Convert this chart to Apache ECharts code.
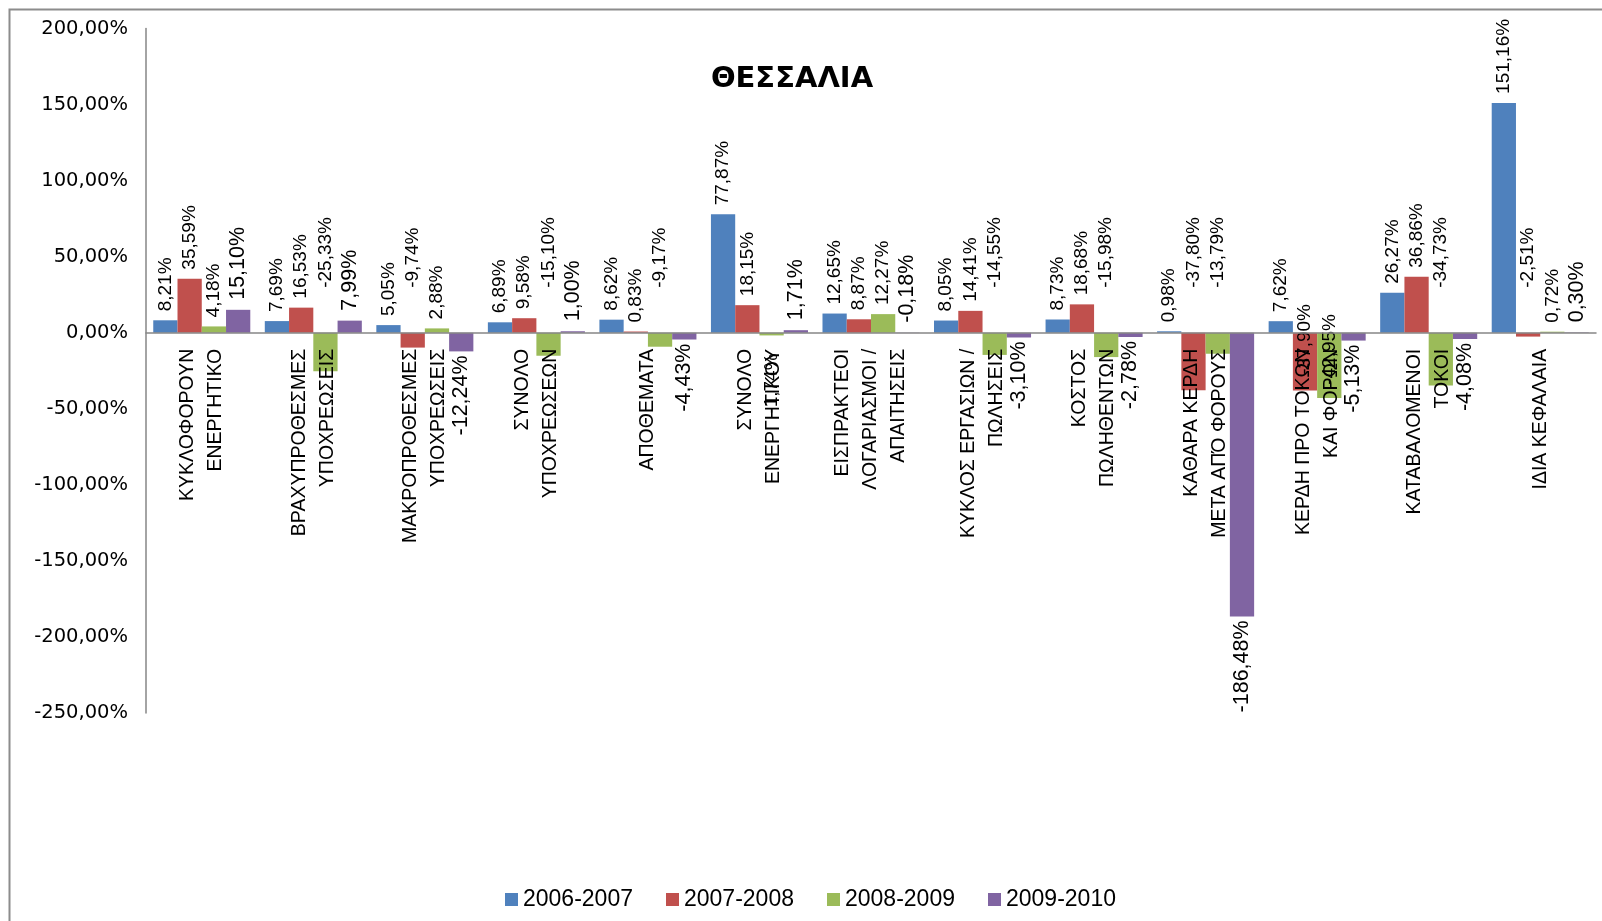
<!DOCTYPE html>
<html lang="el">
<head>
  <meta charset="UTF-8">
  <title>ΘΕΣΣΑΛΙΑ</title>
  <script src="https://cdn.jsdelivr.net/npm/echarts@6.0.0/dist/echarts.min.js"></script>
  <style>
    html, body { margin: 0; padding: 0; background: #ffffff; }
    #chart { width: 1602px; height: 921px; }
  </style>
</head>
<body>
  <div id="chart"></div>

  <script>
    // κατηγορίες (δείκτες)
    const categories = [
      'ΚΥΚΛΟΦΟΡΟΥΝ\nΕΝΕΡΓΗΤΙΚΟ',
      'ΒΡΑΧΥΠΡΟΘΕΣΜΕΣ\nΥΠΟΧΡΕΩΣΕΙΣ',
      'ΜΑΚΡΟΠΡΟΘΕΣΜΕΣ\nΥΠΟΧΡΕΩΣΕΙΣ',
      'ΣΥΝΟΛΟ\nΥΠΟΧΡΕΩΣΕΩΝ',
      'ΑΠΟΘΕΜΑΤΑ',
      'ΣΥΝΟΛΟ\nΕΝΕΡΓΗΤΙΚΟΥ',
      'ΕΙΣΠΡΑΚΤΕΟΙ\nΛΟΓΑΡΙΑΣΜΟΙ /\nΑΠΑΙΤΗΣΕΙΣ',
      'ΚΥΚΛΟΣ ΕΡΓΑΣΙΩΝ /\nΠΩΛΗΣΕΙΣ',
      'ΚΟΣΤΟΣ\nΠΩΛΗΘΕΝΤΩΝ',
      'ΚΑΘΑΡΑ ΚΕΡΔΗ\nΜΕΤΑ ΑΠΌ ΦΟΡΟΥΣ',
      'ΚΕΡΔΗ ΠΡΟ ΤΟΚΩΝ\nΚΑΙ ΦΟΡΩΝ',
      'ΚΑΤΑΒΑΛΟΜΕΝΟΙ\nΤΟΚΟΙ',
      'ΙΔΙΑ ΚΕΦΑΛΑΙΑ'
    ];

    const seriesNames = ['2006-2007', '2007-2008', '2008-2009', '2009-2010'];

    // μεταβολές σε %
    const y0607 = [8.21, 7.69, 5.05, 6.89, 8.62, 77.87, 12.65, 8.05, 8.73, 0.98, 7.62, 26.27, 151.16];
    const y0708 = [35.59, 16.53, -9.74, 9.58, 0.83, 18.15, 8.87, 14.41, 18.68, -37.80, -37.90, 36.86, -2.51];
    const y0809 = [4.18, -25.33, 2.88, -15.10, -9.17, -1.74, 12.27, -14.55, -15.98, -13.79, -42.95, -34.73, 0.72];
    const y0910 = [15.10, 7.99, -12.24, 1.00, -4.43, 1.71, -0.18, -3.10, -2.78, -186.48, -5.13, -4.08, 0.30];

    const yTicks = { min: -250, max: 200, step: 50 };

    const colors = ['#4F81BD', '#C0504D', '#9BBB59', '#8064A2'];
    const labelFont = 'Liberation Sans, Arial, sans-serif';

    const fmt = v => v.toFixed(2).replace('.', ',') + '%';

    // ετικέτες που στο πρωτότυπο έχουν μετακινηθεί με το χέρι
    const labelOverrides = {
      '2-5': { position: 'bottom', distance: 18, align: 'right' },
      '1-10': { position: 'top', distance: -42, align: 'left' },
      '2-10': { position: 'top', distance: -52, align: 'left' },
      '3-6': { position: 'top', distance: 10, align: 'left' }
    };

    function buildData(values, si) {
      return values.map((v, i) => {
        let label;
        if (si === 3) {
          label = v >= 0
            ? { position: 'top', distance: 10, align: 'left' }
            : { position: 'bottom', distance: 4, align: 'right' };
        } else {
          label = v >= 0
            ? { position: 'top', distance: 9, align: 'left' }
            : { position: 'top', distance: 45, align: 'left' };
        }
        const ov = labelOverrides[si + '-' + i];
        if (ov) label = ov;
        return { value: v, label: label };
      });
    }

    const allValues = [y0607, y0708, y0809, y0910];

    // ύψος πλαισίου και θέση του μηδενός, για να μπει ο άξονας κατηγοριών στο 0
    const gridTop = 28.6, gridBottom = 208;
    const plotH = 921 - gridTop - gridBottom;
    const zeroFromBottom = plotH * (0 - yTicks.min) / (yTicks.max - yTicks.min);

    const chart = echarts.init(document.getElementById('chart'));

    const option = {
      backgroundColor: '#ffffff',
      animation: false,
      title: {
        text: 'ΘΕΣΣΑΛΙΑ',
        left: 792,
        top: 65,
        padding: 0,
        textAlign: 'center',
        textStyle: {
          fontFamily: 'DejaVu Sans',
          fontWeight: 'bold',
          fontSize: 29,
          color: '#000'
        }
      },
      graphic: [{
        type: 'rect',
        shape: { x: 9.5, y: 9.5, width: 1800, height: 1200 },
        style: { fill: 'none', stroke: '#8c8c8c', lineWidth: 2 },
        silent: true
      }],
      legend: {
        data: seriesNames,
        left: 505,
        top: 888,
        padding: 0,
        itemWidth: 13,
        itemHeight: 13,
        itemGap: 33,
        icon: 'rect',
        textStyle: { fontFamily: labelFont, fontSize: 23, color: '#000' }
      },
      grid: {
        left: 146,
        right: 6,
        top: gridTop,
        bottom: gridBottom
      },
      xAxis: {
        type: 'category',
        data: categories,
        z: 5,
        offset: -zeroFromBottom,
        axisLine: { onZero: false, lineStyle: { color: '#868686', width: 1.5 } },
        axisTick: { show: false },
        axisLabel: {
          interval: 0,
          rotate: 90,
          margin: 16,
          fontFamily: labelFont,
          fontSize: 19.5,
          lineHeight: 28,
          color: '#000'
        },
        splitLine: { show: false }
      },
      yAxis: {
        type: 'value',
        min: yTicks.min,
        max: yTicks.max,
        interval: yTicks.step,
        axisLine: { show: true, lineStyle: { color: '#868686', width: 1.5 } },
        axisTick: { show: false },
        splitLine: { show: false },
        axisLabel: {
          margin: 18,
          fontFamily: 'DejaVu Sans',
          fontSize: 19.5,
          color: '#000',
          formatter: v => fmt(v)
        }
      },
      series: allValues.map((vals, si) => ({
        name: seriesNames[si],
        type: 'bar',
        data: buildData(vals, si),
        barGap: '0%',
        barCategoryGap: '13%',
        itemStyle: { color: colors[si] },
        label: {
          show: true,
          rotate: 90,
          verticalAlign: 'middle',
          fontFamily: labelFont,
          fontSize: si === 3 ? 21.5 : 19,
          color: '#000',
          formatter: p => fmt(p.value)
        }
      }))
    };

    chart.setOption(option);
  </script>
</body>
</html>
